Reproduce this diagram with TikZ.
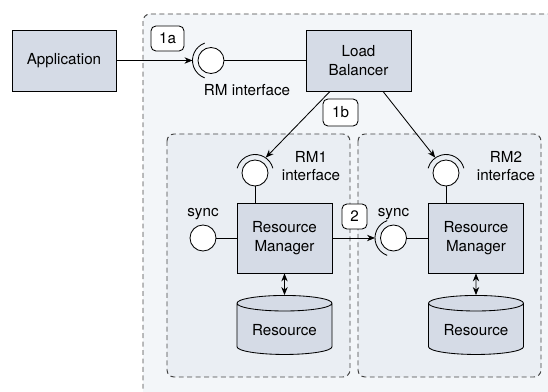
\documentclass[tikz,border=0pt]{standalone}
\usepackage{fontspec}
\setmainfont{TeX Gyre Heros}
\usepackage{tikz}
\usetikzlibrary{positioning,shapes.geometric,arrows.meta}

\definecolor{boxfill}{HTML}{D5DBE6}
\definecolor{outerbg}{HTML}{F3F6F9}
\definecolor{innerbg}{HTML}{EAEEF3}
\definecolor{dashgray}{HTML}{444444}

\tikzset{
  block/.style={draw, fill=boxfill, align=center, minimum width=2.375cm, minimum height=1.75cm, inner sep=1pt},
  iface/.style={circle, draw, fill=white, minimum size=0.65cm, inner sep=0pt},
  badge/.style={draw, fill=white, rounded corners=3.5pt, minimum width=0.625cm, minimum height=0.625cm, inner sep=1pt},
  store/.style={cylinder, shape border rotate=90, aspect=0.23, draw, fill=boxfill, minimum width=2.375cm, minimum height=1.475cm, inner sep=1pt},
  region/.style={draw=dashgray, line width=0.7pt, dash pattern=on 3.5pt off 2.5pt, rounded corners=5pt},
}

\begin{document}
\begin{tikzpicture}[x=0.025cm, y=-0.025cm, >={Stealth[length=2mm,width=1.6mm]}, font=\fontsize{10.8}{13}\selectfont, line width=0.6pt]

    \useasboundingbox (0,0) rectangle (548,392);

    % Bereiche (gestrichelt)
    \begin{scope}
        \clip (0,0) rectangle (548,392);
        \draw[region, fill=outerbg] (143,14) rectangle (570,420);
    \end{scope}
    \draw[region, fill=innerbg] (167,134) rectangle (350,377);
    \draw[region, fill=innerbg] (358,134) rectangle (541,377);

    % Knoten
    \node (App) at (64,60.5) [draw, fill=boxfill, minimum width=2.6cm, minimum height=1.525cm] {Application};
    \node (Balancer) at (358.5,60.5) [draw, fill=boxfill, align=center, minimum width=2.625cm, minimum height=1.525cm] {Load\\Balancer};
    \node (RM1) at (284.5,238) [block] {Resource\\Manager};
    \node (RM2) at (476,238) [block] {Resource\\Manager};
    \node (Res1) at (284.5,330) [store] {Resource};
    \node (Res2) at (476,330) [store] {Resource};

    % Schnittstellen
    \node (RMSocket) at (211,60.5) [iface] {};
    \node (RM1If) at (255,173) [iface] {};
    \node (RM2If) at (446,173) [iface] {};
    \node (Sync1) at (203,238) [iface, label=above:sync] {};
    \node (Sync2) at (393.5,238) [iface, label=above:sync] {};

    \draw ([shift={(110:0.4625cm)}]RMSocket.center) arc[start angle=110, end angle=250, radius=0.4625cm];
    \draw ([shift={(15:0.4625cm)}]RM1If.center) arc[start angle=15, end angle=165, radius=0.4625cm];
    \draw ([shift={(15:0.4625cm)}]RM2If.center) arc[start angle=15, end angle=165, radius=0.4625cm];
    \draw ([shift={(110:0.4625cm)}]Sync2.center) arc[start angle=110, end angle=250, radius=0.4625cm];

    \coordinate (RMTip) at ([xshift=-0.4625cm]RMSocket.center);
    \coordinate (RM1Tip) at ([shift={(55:0.47cm)}]RM1If.center);
    \coordinate (RM2Tip) at ([shift={(125:0.47cm)}]RM2If.center);
    \coordinate (Sync2Tip) at ([xshift=-0.4625cm]Sync2.center);

    % Beschriftungen
    \node (RMText) at (247,90) {RM interface};
    \node (RM1Text) at (311,166) [align=center] {RM1\\interface};
    \node (RM2Text) at (506,166) [align=center] {RM2\\interface};

    % Schritte
    \node (Step1a) at (167.5,38.5) [badge, minimum width=0.825cm] {1a};
    \node (Step1b) at (340.5,112.5) [badge, minimum width=0.875cm, minimum height=0.675cm] {1b};
    \node (Step2) at (354.5,216.5) [badge] {2};

    % Verbindungen
    \draw[->] (App) -- (RMTip);
    \draw (RMSocket) -- (Balancer);
    \draw[->] ([xshift=-0.7125cm]Balancer.south) -- (RM1Tip);
    \draw[->] ([xshift=0.6125cm]Balancer.south) -- (RM2Tip);
    \draw (RM1If) -- (RM1If |- RM1.north);
    \draw (RM2If) -- (RM2If |- RM2.north);
    \draw (Sync1) -- (RM1);
    \draw[->] (RM1) -- (Sync2Tip);
    \draw (Sync2) -- (RM2);
    \draw[<->] (RM1) -- (Res1);
    \draw[<->] (RM2) -- (Res2);

\end{tikzpicture}
\end{document}
